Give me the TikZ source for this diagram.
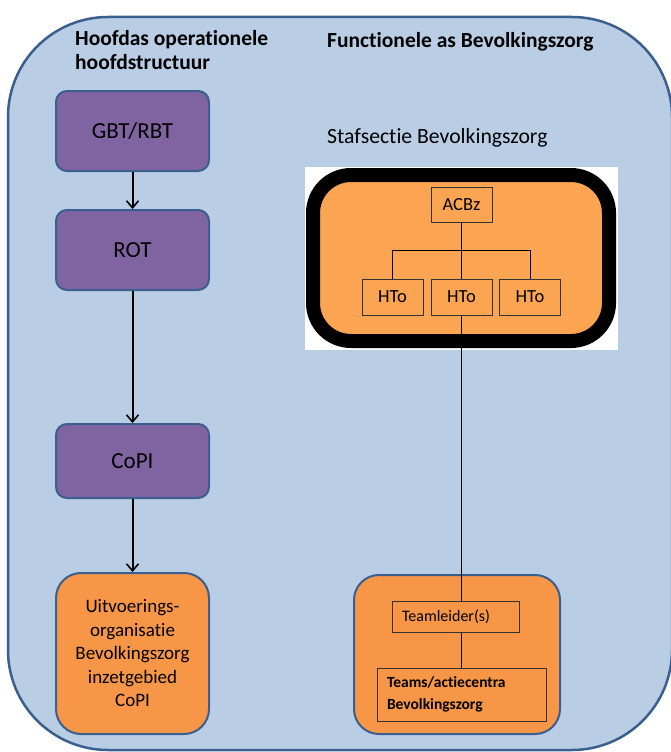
\documentclass[tikz,border=0pt]{standalone}
\usepackage{fontspec}
\setmainfont[Ligatures={NoCommon}]{Carlito}
\usetikzlibrary{arrows.meta}
\definecolor{bgblue}{HTML}{B9CDE5}
\definecolor{edgeblue}{HTML}{3A5F8E}
\definecolor{purp}{HTML}{8064A2}
\definecolor{orng}{HTML}{F79646}
\definecolor{lorng}{HTML}{FBA552}
\tikzset{
  purplebox/.style={draw=edgeblue, line width=2pt, fill=purp, rounded corners=11pt,
    minimum width=153pt, inner sep=0pt, font=\fontsize{23}{27}\selectfont},
  orangebox/.style={draw=edgeblue, line width=2pt, fill=orng, rounded corners=25pt, inner sep=0pt},
  smallbox/.style={draw=black!80, line width=1pt, inner sep=0pt},
  arr/.style={line width=2pt, -{Straight Barb[length=7pt,width=12pt,line width=1.6pt]}},
  conn/.style={line width=0.8pt, black},
  title/.style={font=\bfseries\fontsize{21.5}{24}\selectfont, anchor=west, inner sep=0pt}
}
\begin{document}
\begin{tikzpicture}[x=1pt,y=-1pt]
\useasboundingbox (0,0) rectangle (671,752);
\clip (0,0) rectangle (671,752);
\draw[draw=edgeblue, fill=bgblue, line width=2.5pt, rounded corners=100pt] (8,17) rectangle (672,750);

\node[title, align=left] (t1) at (75,50.5) {Hoofdas operationele\\[0pt]hoofdstructuur};
\node[title] (t2) at (327,42) {Functionele as Bevolkingszorg};

\node[purplebox, minimum height=80pt] (gbt) at (132.5,131) {GBT/RBT};
\node[purplebox, minimum height=80pt] (rot) at (132.5,250) {ROT};
\node[purplebox, minimum height=74pt] (copi) at (132.5,461) {CoPI};
\node[orangebox, minimum width=153pt, minimum height=161pt, align=center,
  font=\fontsize{19}{23.5}\selectfont] (uit) at (132.5,653.5)
  {Uitvoerings-\\organisatie\\Bevolkingszorg\\inzetgebied\\CoPI};

\draw[arr] (gbt.south) -- (rot.north);
\draw[arr] (rot.south) -- (copi.north);
\draw[arr] (copi.south) -- (uit.north);

\node[anchor=west, inner sep=0pt, font=\fontsize{21.7}{24}\selectfont] (staf) at (327,138) {Stafsectie Bevolkingszorg};

\fill[white] (305,167) rectangle (618,350);
\node[draw=black, line width=14pt, fill=lorng, rounded corners=38pt,
  minimum width=296pt, minimum height=166pt, inner sep=0pt] (stafbox) at (461,258) {};

\node[smallbox, minimum width=61pt, minimum height=35pt, font=\fontsize{18.5}{20}\selectfont] (acbz) at (461.5,204.5) {ACBz};
\node[smallbox, minimum width=61pt, minimum height=36pt, font=\fontsize{18.5}{20}\selectfont] (h1) at (392.5,297) {HTo};
\node[smallbox, minimum width=61pt, minimum height=36pt, font=\fontsize{18.5}{20}\selectfont] (h2) at (461.5,297) {HTo};
\node[smallbox, minimum width=61pt, minimum height=36pt, font=\fontsize{18.5}{20}\selectfont] (h3) at (530,297) {HTo};
\coordinate (bl) at (392.5,250);
\coordinate (br) at (530,250);
\draw[conn] (acbz.south) -- (h2.north);
\draw[conn] (h1.north) -- (bl) -- (br) -- (h3.north);

\node[orangebox, minimum width=206pt, minimum height=159pt] (rbox) at (457,654.5) {};
\node[smallbox, minimum width=127pt, minimum height=31pt, text width=107pt, align=left,
  font=\fontsize{16}{18}\selectfont] (tl) at (455.5,616.5) {Teamleider(s)};
\node[smallbox, minimum width=169pt, minimum height=53pt, text width=149pt, align=left,
  font=\bfseries\fontsize{15.5}{22}\selectfont] (teams) at (461.5,694.5) {Teams/actiecentra\\Bevolkingszorg};
\draw[conn] (h2.south) -- (h2.south |- tl.north);
\draw[conn] (h2.south |- tl.south) -- (h2.south |- teams.north);
\end{tikzpicture}
\end{document}
